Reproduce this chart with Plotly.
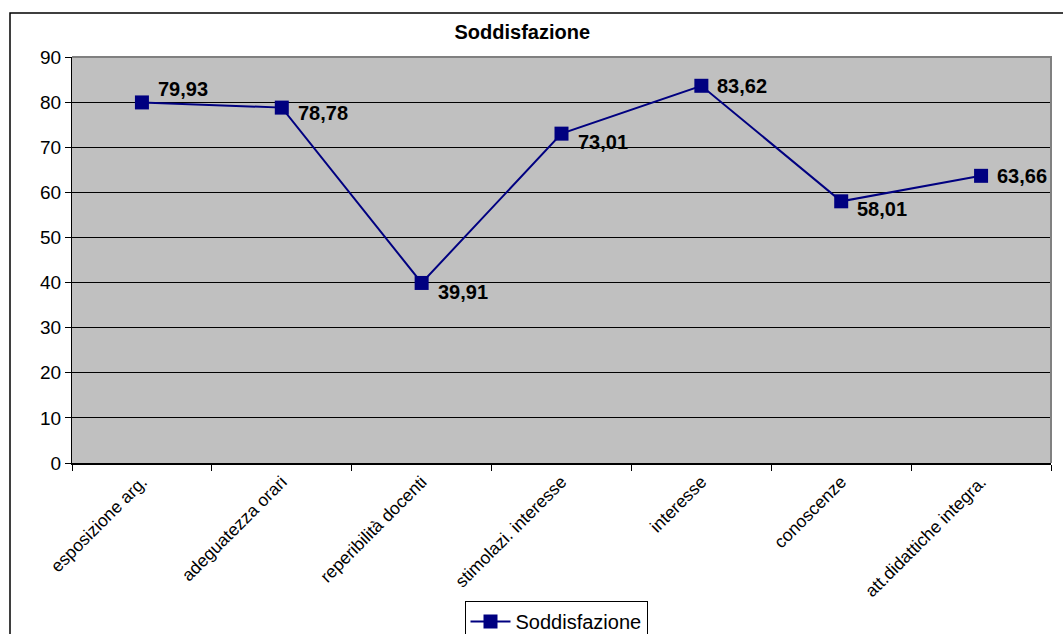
import plotly.graph_objects as go

categories = [
    "esposizione arg.",
    "adeguatezza orari",
    "reperibilità docenti",
    "stimolazi. interesse",
    "interesse",
    "conoscenze",
    "att.didattiche integra.",
]
soddisfazione = [79.93, 78.78, 39.91, 73.01, 83.62, 58.01, 63.66]
label_yshift = [13, -5, -9, -8, 0, -8, 0]

W, H = 1063, 634
L, R, T, B = 72, 12, 57, 171
pw, ph = W - L - R, H - T - B


def px(x):
    return (x - L) / pw


def py(y):
    return (H - B - y) / ph


fig = go.Figure()
fig.add_scatter(
    x=categories,
    y=soddisfazione,
    mode="lines+markers",
    name="Soddisfazione",
    line=dict(color="#000080", width=2),
    marker=dict(symbol="square", size=14, color="#000080"),
)

for cat, val, dy in zip(categories, soddisfazione, label_yshift):
    fig.add_annotation(
        x=cat, y=val, text=f"<b>{val:.2f}".replace(".", ",") + "</b>",
        showarrow=False, xanchor="left", xshift=14, yshift=dy,
        font=dict(family="Arial, Liberation Sans", size=20, color="black"),
    )

# outer chart frame
fig.add_shape(type="rect", xref="paper", yref="paper",
              x0=px(10), x1=px(1070), y0=py(700), y1=py(13),
              line=dict(color="black", width=1.5), layer="below")
# plot area top/right border
fig.add_shape(type="path", xref="paper", yref="paper",
              path="M 0 1 L 1 1 L 1 0",
              line=dict(color="#808080", width=2))

fig.update_layout(
    width=W, height=H,
    margin=dict(l=L, r=R, t=T, b=B, autoexpand=False),
    paper_bgcolor="white",
    plot_bgcolor="#C0C0C0",
    font=dict(family="Arial, Liberation Sans", color="black"),
    title=dict(text="<b>Soddisfazione</b>", x=px(553), xanchor="center",
               y=1 - 32 / H, yanchor="middle", font=dict(size=20)),
    showlegend=True,
    legend=dict(
        x=px(556), xanchor="center", y=py(601), yanchor="top",
        bordercolor="black", borderwidth=1, bgcolor="white",
        font=dict(size=20), itemwidth=40,
    ),
    xaxis=dict(
        type="category", range=[-0.5, 6.5], tickson="boundaries",
        ticks="outside", ticklen=6, tickcolor="black",
        showline=True, linecolor="black", linewidth=1.5,
        showgrid=False, tickangle=-45, tickfont=dict(size=17.5),
        automargin=False,
    ),
    yaxis=dict(
        range=[0, 90], dtick=10, ticks="outside", ticklen=6,
        tickcolor="black", showline=True, linecolor="black",
        showgrid=True, gridcolor="black", gridwidth=1,
        zeroline=False, tickfont=dict(size=19), automargin=False,
    ),
)

fig.write_html("out.html", config={"displayModeBar": False},
               post_script="document.body.style.margin='0';")
